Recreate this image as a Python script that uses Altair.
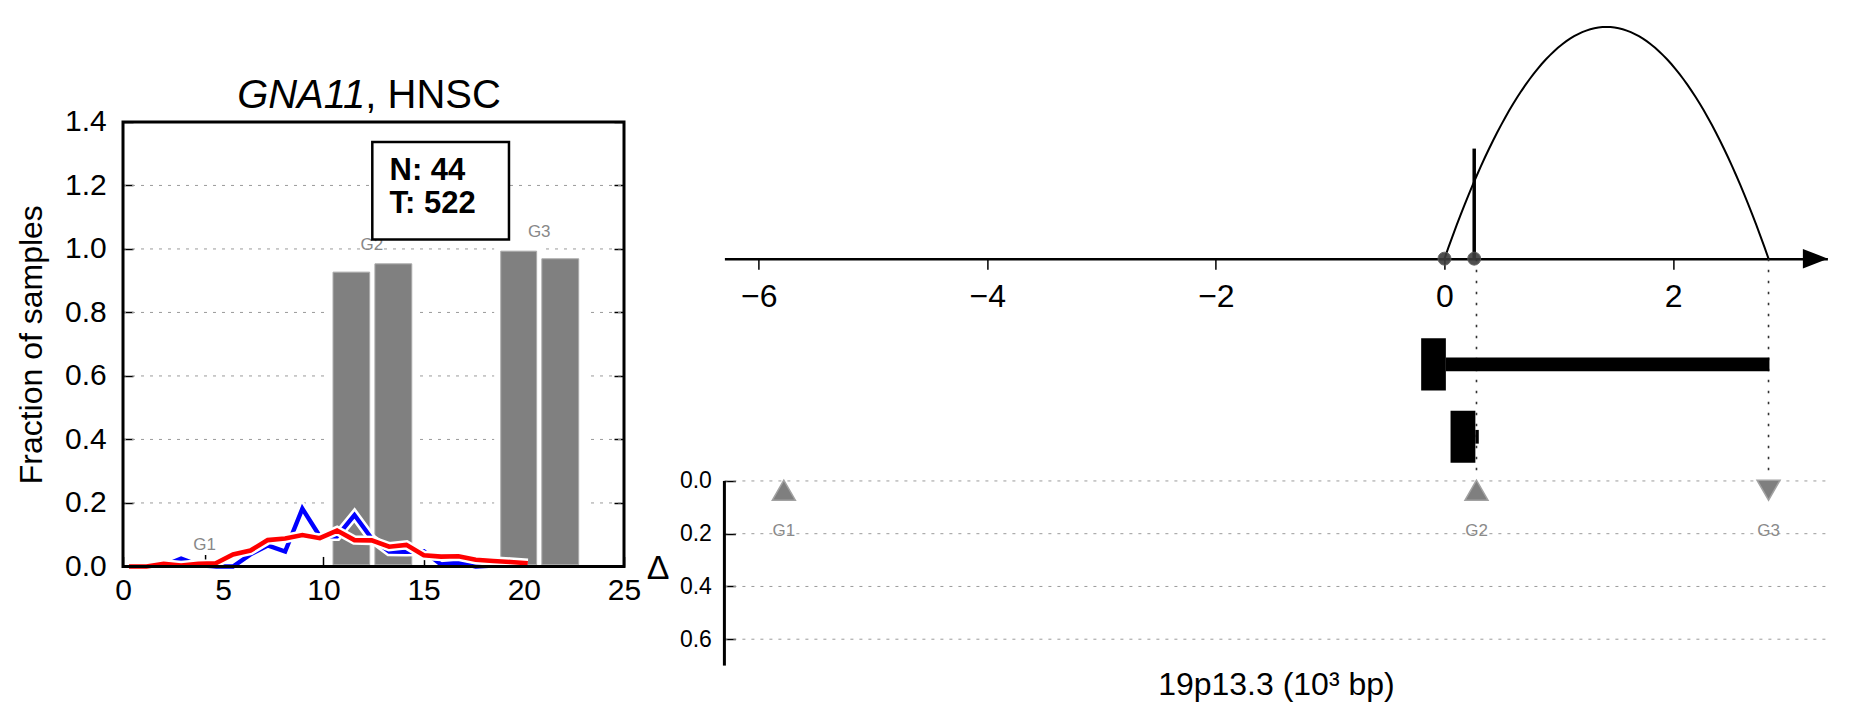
import altair as alt
import pandas as pd

FONT = "Liberation Sans"

# ---------------- left panel: GNA11, HNSC ----------------
bin_x = [0.3, 1.17, 2.03, 2.9, 3.76, 4.63, 5.49, 6.36, 7.22, 8.09, 8.95, 9.82,
         10.68, 11.55, 12.41, 13.28, 14.14, 15.01, 15.87, 16.74, 17.6, 18.47, 19.33, 20.2]
normal_frac = [0.0, 0.0, 0.002, 0.025, 0.004, 0.0, 0.0, 0.038, 0.066, 0.047, 0.182, 0.095,
               0.095, 0.162, 0.088, 0.047, 0.046, 0.048, 0.006, 0.012, 0.0, 0.003, 0.005, 0.006]
tumor_frac = [0.0, 0.0, 0.008, 0.003, 0.008, 0.01, 0.038, 0.05, 0.083, 0.088, 0.099, 0.089,
              0.113, 0.083, 0.082, 0.062, 0.068, 0.035, 0.031, 0.032, 0.021, 0.017, 0.014, 0.01]
bar_start = [10.48, 12.57, 18.85, 20.9]
bar_end = [12.31, 14.41, 20.64, 22.74]
bar_frac = [0.927, 0.953, 0.993, 0.969]
left_tag_text = ["G1", "G2", "G3"]
left_tag_x = [4.07, 12.42, 20.77]
left_tag_y = [0.066, 1.013, 1.052]
left_x_ticks = [0, 5, 10, 15, 20, 25]
left_y_ticks = [0.0, 0.2, 0.4, 0.6, 0.8, 1.0, 1.2, 1.4]
left_y_grid = [0.2, 0.4, 0.6, 0.8, 1.0, 1.2]
left_x_domain = [0, 25]
left_y_domain = [0, 1.4]
count_text = ["N: 44", "T: 522"]
count_x = [13.3, 13.3]
count_y = [1.247, 1.140]
box_x = [12.44, 19.26]
box_y = [1.030, 1.337]
title_gene = "GNA11"
title_rest = ", HNSC"
title_x = 12.09
title_y = 1.444

# ---------------- right panel ----------------
pos_ticks = [-6, -4, -2, 0, 2]
pos_domain = [-6.3, 3.35]
break_x = [0.0, 0.26]
arc_from, arc_to, arc_peak = 0.0, 2.835, 1.0
spike_x, spike_top = 0.26, 0.475
arrow_x = 3.245
gene_track = [1, 2]
exon_start = [-0.204, 0.053]
exon_end = [0.012, 0.27]
body_start = [0.012, 0.27]
body_end = [2.843, 0.30]
guide_x = [0.28, 2.835]
marker_x = [-5.78, 0.28, 2.835]
marker_text = ["G1", "G2", "G3"]
marker_dir = ["up", "up", "down"]
delta_ticks = [0.0, 0.2, 0.4, 0.6]
delta_domain = [0, 0.7]
x_title = "19p13.3 (10\u00b3 bp)"

# common height of both panels (pixels); sections are placed via scale ranges
H = 645.6

# ================= left chart =================
W_L = 501
L_TOP, L_BOT = 101.95, 546.45
xsL = alt.Scale(domain=left_x_domain, nice=False, zero=False)
ysL = alt.Scale(domain=left_y_domain, range=[L_BOT, L_TOP], nice=False, zero=False)


def XL(f):
    return alt.X(f, type="quantitative", scale=xsL, axis=None)


def YL(f):
    return alt.Y(f, type="quantitative", scale=ysL, axis=None)


grid_df = pd.DataFrame({"y": left_y_grid, "x0": left_x_domain[0], "x1": left_x_domain[1]})
gridL = alt.Chart(grid_df).mark_rule(color="#9a9a9a", strokeWidth=1, strokeDash=[3, 6]).encode(
    x=XL("x0"), x2="x1", y=YL("y"))

bars_df = pd.DataFrame({"x0": bar_start, "x1": bar_end, "h": bar_frac})
halo = alt.Chart(bars_df).transform_calculate(
    hx0="datum.x0 - 0.33", hx1="datum.x1 + 0.33", ht="datum.h + 0.021", hb="0.005"
).mark_rect(color="white").encode(x=XL("hx0"), x2="hx1", y=YL("hb"), y2="ht")
bars = alt.Chart(bars_df).transform_calculate(b="0.005").mark_rect(
    color="#808080", stroke="#ababab", strokeWidth=1
).encode(x=XL("x0"), x2="x1", y=YL("b"), y2="h")

line_df = pd.DataFrame({"x": bin_x, "normal": normal_frac, "tumor": tumor_frac})


def series(field, color, w):
    return alt.Chart(line_df).mark_line(color=color, strokeWidth=w, strokeJoin="miter").encode(
        x=XL("x"), y=YL(field))


blue_halo = series("normal", "white", 9.5)
blue = series("normal", "#0000ff", 4.4)
red_halo = series("tumor", "white", 9.5)
red = series("tumor", "#ff0000", 4.6)

tags_df = pd.DataFrame({"t": left_tag_text, "x": left_tag_x, "y": left_tag_y})
tags = alt.Chart(tags_df).mark_text(color="#888888", fontSize=17, font=FONT,
                                    align="center", baseline="middle").encode(
    x=XL("x"), y=YL("y"), text="t:N")
g1_tick = alt.Chart(pd.DataFrame({"x": [4.12], "y0": [0.022], "y1": [0.036]})).mark_rule(
    color="black", strokeWidth=1.5).encode(x=XL("x"), y=YL("y0"), y2="y1")

box_df = pd.DataFrame({"x0": [box_x[0]], "x1": [box_x[1]], "y0": [box_y[0]], "y1": [box_y[1]]})
box = alt.Chart(box_df).mark_rect(fill="white", stroke="black", strokeWidth=2.5).encode(
    x=XL("x0"), x2="x1", y=YL("y0"), y2="y1")
count_df = pd.DataFrame({"t": count_text, "x": count_x, "y": count_y})
counts = alt.Chart(count_df).mark_text(fontSize=31, fontWeight="bold", font=FONT,
                                       align="left", baseline="middle", color="black").encode(
    x=XL("x"), y=YL("y"), text="t:N")

tdf = pd.DataFrame({"x": [title_x], "y": [title_y], "a": [title_gene], "b": [title_rest]})
title_a = alt.Chart(tdf).mark_text(fontSize=40, fontStyle="italic", font=FONT, align="right",
                                   baseline="alphabetic", color="black").encode(
    x=XL("x"), y=YL("y"), text="a:N")
title_b = alt.Chart(tdf).mark_text(fontSize=40, font=FONT, align="left",
                                   baseline="alphabetic", color="black").encode(
    x=XL("x"), y=YL("y"), text="b:N")

frame_df = pd.DataFrame({"x0": [left_x_domain[0]], "x1": [left_x_domain[1]],
                         "y0": [left_y_domain[0]], "y1": [left_y_domain[1]]})
frame = alt.Chart(frame_df).mark_rect(fillOpacity=0, stroke="black", strokeWidth=3).encode(
    x=XL("x0"), x2="x1", y=YL("y0"), y2="y1")

axis_df = pd.DataFrame({"x": left_x_domain, "y": left_y_domain})
TK = 10
common_ax = dict(tickColor="black", tickWidth=1.5, tickSize=TK, domain=False,
                 grid=False, labelFont=FONT, labelColor="black", labelFlush=False,
                 labelOverlap=False)
axes_main = alt.Chart(axis_df).mark_point(opacity=0).encode(
    x=alt.X("x:Q", scale=xsL, axis=alt.Axis(orient="bottom", values=left_x_ticks, format="d",
                                            offset=(L_BOT - H) - TK,
                                            title=None, labelFontSize=30, labelPadding=9.5,
                                            **common_ax)),
    y=alt.Y("y:Q", scale=ysL, axis=alt.Axis(orient="left", values=left_y_ticks, format=".1f",
                                            offset=-TK,
                                            title="Fraction of samples", titleFontSize=32,
                                            titleFont=FONT, titleFontWeight="normal",
                                            titleColor="black", titlePadding=16,
                                            labelFontSize=30, labelPadding=16.8, **common_ax)),
)
axes_opp = alt.Chart(axis_df).mark_point(opacity=0).encode(
    x=XL("x"),
    y=alt.Y("y:Q", scale=ysL, axis=alt.Axis(orient="right", values=left_y_ticks, labels=False,
                                            offset=-TK, title=None, **common_ax)),
)

left = alt.layer(
    gridL, halo, bars, blue_halo, blue, red_halo, red, tags, g1_tick, box, counts,
    title_a, title_b, axes_main, axes_opp, frame
).resolve_axis(x="independent", y="independent").properties(width=W_L, height=H)

# ================= right chart =================
W_R = 1103
LINE_Y = 238.65      # pixel row of the number line
MID_BOT = 460.95     # pixel row where the delta track starts
xsR = alt.Scale(domain=pos_domain, nice=False, zero=False)
ysT = alt.Scale(domain=[0, 1.03], range=[LINE_Y, 0], nice=False, zero=False)
ysM = alt.Scale(domain=[-0.46, 2.61], range=[LINE_Y, MID_BOT], nice=False, zero=False)
ysB = alt.Scale(domain=delta_domain, range=[MID_BOT, H], nice=False, zero=False)


def XR(f):
    return alt.X(f, type="quantitative", scale=xsR, axis=None)


def YS(f, s):
    return alt.Y(f, type="quantitative", scale=s, axis=None)


# ---- top: number line, arc ----
top_axis = alt.Chart(pd.DataFrame({"x": pos_domain, "y": [0, 0]})).mark_point(opacity=0).encode(
    x=alt.X("x:Q", scale=xsR, axis=alt.Axis(
        orient="bottom", values=pos_ticks, offset=LINE_Y - H, domain=True, domainColor="black",
        domainWidth=2.5, ticks=True, tickColor="black", tickWidth=1.5, tickSize=10.7,
        labelFontSize=32, labelFont=FONT, labelColor="black", labelPadding=12.5,
        labelFlush=False, labelOverlap=False, grid=False, title=None)),
    y=YS("y", ysT),
)

arc = alt.Chart(alt.sequence(0, 1.00001, 0.0125, as_="t")).transform_calculate(
    x=f"{arc_from} + datum.t * ({arc_to} - {arc_from})",
    y=f"4 * {arc_peak} * datum.t * (1 - datum.t)",
).mark_line(color="black", strokeWidth=2).encode(x=XR("x"), y=YS("y", ysT))

spike = alt.Chart(pd.DataFrame({"x": [spike_x], "y0": [0.0], "y1": [spike_top]})).mark_rule(
    color="black", strokeWidth=3.5).encode(x=XR("x"), y=YS("y0", ysT), y2="y1")

dots = alt.Chart(pd.DataFrame({"x": break_x, "y": [0.0] * len(break_x)})).mark_point(
    filled=True, size=169, color="#3d3d3d", opacity=0.9, stroke="#5a5a5a", strokeWidth=1
).encode(x=XR("x"), y=YS("y", ysT))

arrow = alt.Chart(pd.DataFrame({"x": [arrow_x], "y": [0.0]})).mark_point(
    shape="M-1,-0.78L1,0L-1,0.78Z", filled=True, size=625, color="black", opacity=1
).encode(x=XR("x"), y=YS("y", ysT))

# ---- middle: gene tracks ----
guides = alt.Chart(pd.DataFrame({"x": guide_x})).transform_calculate(
    y0="-0.46", y1="2.47"
).mark_rule(color="#333333", strokeWidth=1.6, strokeDash=[2.5, 8.5]).encode(
    x=XR("x"), y=YS("y0", ysM), y2="y1")

gene_df = pd.DataFrame({"track": gene_track, "es": exon_start, "ee": exon_end,
                        "bs": body_start, "be": body_end})
exons = alt.Chart(gene_df).transform_calculate(
    lo="datum.track - 0.36", hi="datum.track + 0.36"
).mark_rect(color="black").encode(x=XR("es"), x2="ee", y=YS("lo", ysM), y2="hi")
bodies = alt.Chart(gene_df).transform_calculate(
    lo="datum.track - 0.095", hi="datum.track + 0.095"
).mark_rect(color="black").encode(x=XR("bs"), x2="be", y=YS("lo", ysM), y2="hi")

# ---- bottom: delta track ----
dgrid = alt.Chart(pd.DataFrame({"y": delta_ticks, "x0": pos_domain[0], "x1": pos_domain[1]})).mark_rule(
    color="#9a9a9a", strokeWidth=1, strokeDash=[3, 6]).encode(x=XR("x0"), x2="x1", y=YS("y", ysB))

dline = alt.Chart(pd.DataFrame({"x": [pos_domain[0]], "y0": [delta_domain[0]],
                                "y1": [delta_domain[1]]})).mark_rule(
    color="black", strokeWidth=3).encode(x=XR("x"), y=YS("y0", ysB), y2="y1")

mk_df = pd.DataFrame({"x": marker_x, "t": marker_text, "d": marker_dir})
markers = alt.Chart(mk_df).transform_calculate(y="0.035").mark_point(
    filled=True, size=529, color="#7f7f7f", opacity=1, stroke="#a2a2a2", strokeWidth=1.5
).encode(
    x=XR("x"), y=YS("y", ysB),
    shape=alt.Shape("d:N", scale=alt.Scale(domain=["up", "down"],
                                           range=["triangle-up", "triangle-down"]), legend=None),
)
mlabels = alt.Chart(mk_df).transform_calculate(y="0.19").mark_text(
    color="#8a8a8a", fontSize=17, font=FONT, align="center", baseline="middle"
).encode(x=XR("x"), y=YS("y", ysB), text="t:N")

bot_axis = alt.Chart(pd.DataFrame({"x": pos_domain, "y": delta_domain})).mark_point(opacity=0).encode(
    x=alt.X("x:Q", scale=xsR, axis=alt.Axis(
        orient="bottom", domain=False, ticks=False, labels=False, grid=False, title=x_title,
        titleFont=FONT, titleFontSize=32, titleFontWeight="normal", titleColor="black",
        titlePadding=3.6)),
    y=alt.Y("y:Q", scale=ysB, axis=alt.Axis(
        orient="left", values=delta_ticks, format=".1f", offset=-11, tickSize=11,
        tickWidth=1.5, tickColor="black", domain=False, grid=False, labelFontSize=23,
        labelFont=FONT, labelColor="black", labelPadding=13, labelFlush=False,
        labelOverlap=False, title="\u0394", titleAngle=0, titleFont=FONT, titleFontSize=34,
        titleFontWeight="normal", titleColor="black", titleAlign="center",
        titleBaseline="middle", titleX=-77.7, titleY=548.95)),
)

right = alt.layer(
    top_axis, arc, spike, dots, arrow, guides, bodies, exons,
    dgrid, bot_axis, dline, markers, mlabels
).resolve_scale(y="independent").resolve_axis(x="independent", y="independent").properties(
    width=W_R, height=H)

chart = alt.hconcat(left, right, spacing=100.4, bounds="flush").configure(
    font=FONT
).configure_view(stroke="transparent").properties(
    padding={"left": 6, "top": 11, "right": 5, "bottom": 5}
)

chart.save("out.html", embed_options={"renderer": "svg", "actions": False})
